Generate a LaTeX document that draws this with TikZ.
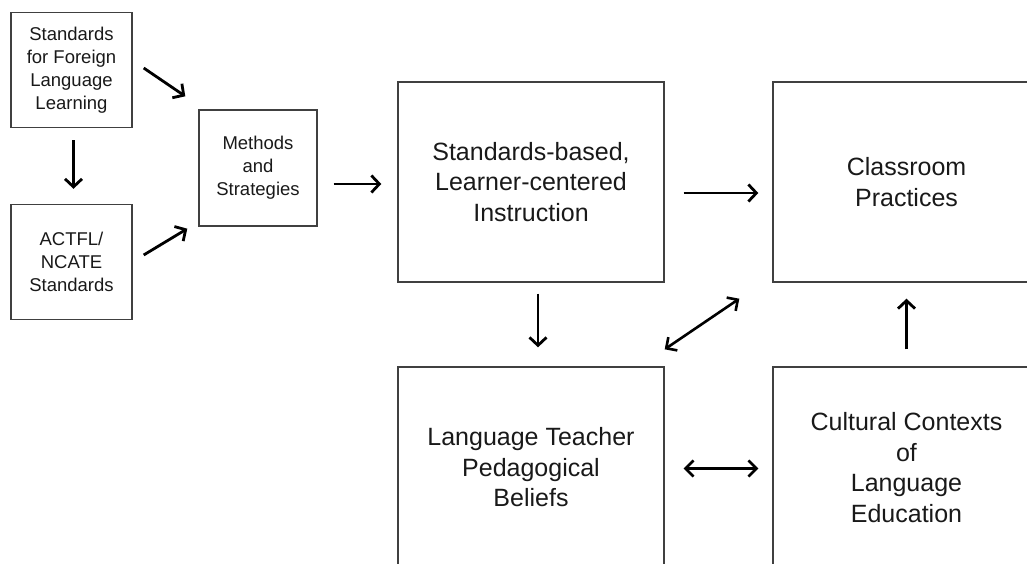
\documentclass[tikz,border=0pt]{standalone}
\usepackage{fontspec}
\setmainfont{Liberation Sans}
\usetikzlibrary{arrows.meta}
\begin{document}
\begin{tikzpicture}[x=1pt,y=-1pt,
	box/.style={draw=black!75,line width=1.4pt,inner sep=0pt,align=center,text=black!90},
	small/.style={box,minimum width=121pt,minimum height=115pt,font=\fontsize{18.5}{23}\selectfont},
	big/.style={box,minimum width=266pt,minimum height=200pt,font=\fontsize{25}{30.5}\selectfont},
	arr/.style={line width=2.8pt,-{Straight Barb[length=8pt,width=17pt]}},
	arrs/.style={line width=2.6pt,{Straight Barb[length=8pt,width=16pt]}-{Straight Barb[length=8pt,width=16pt]}}]
	\useasboundingbox (0,0) rectangle (1027,564);
	\clip (0,0) rectangle (1027,564);
	
	% left column
	\node[small] (std) at (71.5,70) {Standards\\for Foreign\\Language\\Learning};
	\node[small] (actfl) at (71.5,262) {ACTFL/\\NCATE\\Standards};
	\node[small,minimum width=118pt,minimum height=116pt] (meth) at (258,168) {Methods\\and\\Strategies};
	
	% big boxes
	\node[big] (inst) at (531,182) {Standards-based,\\Learner-centered\\Instruction};
	\node[big,minimum width=267pt] (prac) at (906.5,182) {Classroom\\Practices};
	\node[big,minimum height=201pt] (beliefs) at (531,467.5) {Language Teacher\\Pedagogical\\Beliefs};
	\node[big,minimum width=267pt,minimum height=201pt] (cult) at (906.5,467.5) {Cultural Contexts\\of\\Language\\Education};
	
	% arrows
	\draw[arr] ([shift={(11,-2)}]std.east) -- ([shift={(-13,-13)}]meth.north west);
	\draw[arr] ([shift={(2,12)}]std.south) -- ([shift={(2,-15)}]actfl.north);
	\draw[arr] ([shift={(11,-7)}]actfl.east) -- ([shift={(-11,2)}]meth.south west);
	\draw[arr] ([shift={(16,16)}]meth.east) -- ([shift={(-16,2)}]inst.west);
	\draw[arr] ([shift={(19,11)}]inst.east) -- ([shift={(-14,11)}]prac.west);
	\draw[arr] ([shift={(7,11)}]inst.south) -- ([shift={(7,-19)}]beliefs.north);
	\draw[arrs] ([shift={(0,-17)}]beliefs.north east) -- ([shift={(-33,16)}]prac.south west);
	\draw[arrs] ([shift={(19,1)}]beliefs.east) -- ([shift={(-14,1)}]cult.west);
	\draw[arr] ([shift={(0,-17)}]cult.north) -- ([shift={(0,16)}]prac.south);
\end{tikzpicture}
\end{document}
